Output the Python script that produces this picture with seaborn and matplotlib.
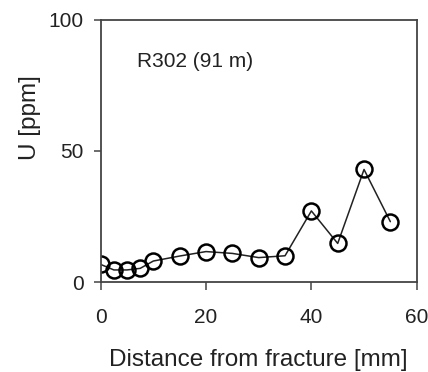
import matplotlib
matplotlib.use("Agg")
import matplotlib.pyplot as plt
import seaborn as sns
import pandas as pd

distance_mm = [0, 2.5, 5, 7.5, 10, 15, 20, 25, 30, 35, 40, 45, 50, 55]
u_ppm = [6.7, 4.6, 4.6, 5.2, 8.0, 9.9, 11.6, 10.9, 9.3, 10.0, 27.1, 14.7, 42.9, 23.0]
x_ticks = [0, 20, 40, 60]
y_ticks = [0, 50, 100]
label_text = "R302 (91 m)"

sns.set_theme(style="white")
plt.rcParams['font.family'] = ['Liberation Sans', 'DejaVu Sans']

df = pd.DataFrame({"d": distance_mm, "u": u_ppm})

fig = plt.figure(figsize=(4.28, 3.72), dpi=100)
ax = fig.add_axes([100.7/428, 1-282/372, 316/428, (282-19.7)/372])

sns.lineplot(data=df, x="d", y="u", ax=ax, color="#222222", linewidth=1.1,
             marker="o", markersize=11.5, markerfacecolor="none",
             markeredgecolor="black", markeredgewidth=1.8)

ax.set_xlim(0, 60)
ax.set_ylim(0, 100)
ax.set_xticks(x_ticks)
ax.set_yticks(y_ticks)
ax.set_xlabel("Distance from fracture [mm]", fontsize=17.5, color="#222222", labelpad=16)
ax.set_ylabel("U [ppm]", fontsize=17.5, color="#222222", va="center")
ax.yaxis.set_label_coords(-0.225, 0.625)

for s in ax.spines.values():
    s.set_visible(True)
    s.set_color("#444444")
    s.set_linewidth(1.3)

ax.tick_params(axis="both", which="major", direction="out", length=5.4, width=1.1,
               color="#444444", labelsize=15, labelcolor="#222222",
               bottom=True, left=True, top=False, right=False)
ax.tick_params(axis="x", pad=13)
ax.tick_params(axis="y", pad=7)

ax.text(0.115, 0.839, label_text, transform=ax.transAxes, fontsize=15,
        color="#222222", ha="left", va="center")

fig.savefig("out.png", dpi=100)
